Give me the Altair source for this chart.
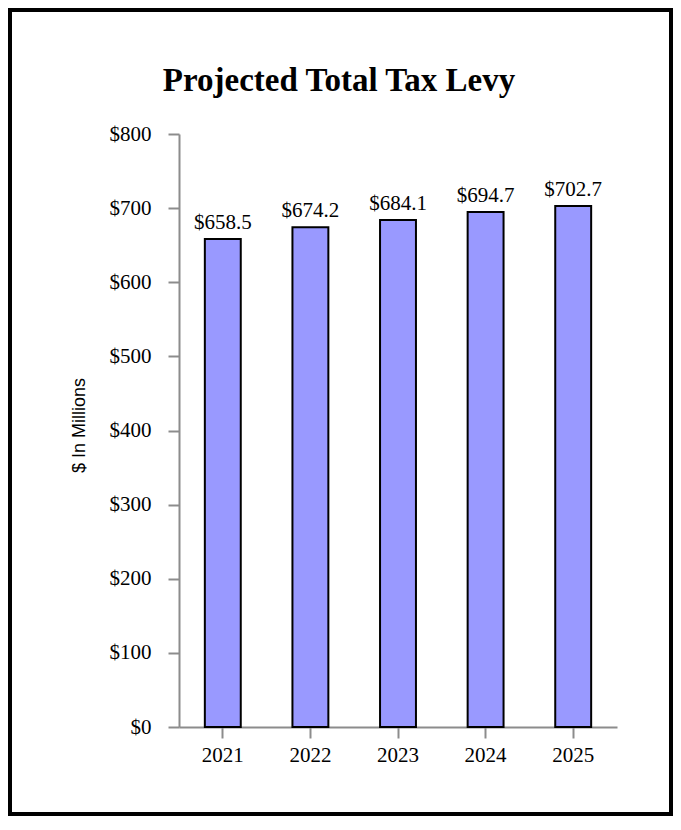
import altair as alt
import pandas as pd

years = ["2021", "2022", "2023", "2024", "2025"]
levy = [658.5, 674.2, 684.1, 694.7, 702.7]
bar_labels = ["$658.5", "$674.2", "$684.1", "$694.7", "$702.7"]
y_ticks = [0, 100, 200, 300, 400, 500, 600, 700, 800]

df = pd.DataFrame({"year": years, "levy": levy, "label": bar_labels})

W, H = 438, 593
PL, PT, PR, PB = 171, 126, 56, 89

GRAY = "#8c8c8c"
SERIF = "Liberation Serif"

x_enc = alt.X(
    "year:N",
    sort=years,
    scale=alt.Scale(paddingInner=0.59, paddingOuter=0.295),
    axis=alt.Axis(
        title=None,
        labelAngle=0,
        labelFont=SERIF,
        labelFontSize=21,
        labelColor="black",
        labelPadding=6,
        tickSize=11,
        tickWidth=2,
        tickColor=GRAY,
        domainColor=GRAY,
        domainWidth=2,
    ),
)
y_enc = alt.Y(
    "levy:Q",
    scale=alt.Scale(domain=[0, 800], nice=False),
    axis=alt.Axis(
        values=y_ticks,
        labelExpr="'$' + datum.value",
        labelFont=SERIF,
        labelFontSize=21,
        labelColor="black",
        labelPadding=17,
        tickSize=11,
        tickWidth=2,
        tickColor=GRAY,
        domainColor=GRAY,
        domainWidth=2,
        grid=False,
        title="$ In Millions",
        titleFont="Liberation Sans",
        titleFontSize=18,
        titleFontWeight="normal",
        titleColor="black",
        titleAngle=-90,
        titleAlign="center",
        titleBaseline="middle",
        titleX=-100,
        titleY=291,
    ),
)

base = alt.Chart(df)

bars = base.mark_bar(color="#9999ff", stroke="black", strokeWidth=2).encode(
    x=x_enc, y=y_enc
)

texts = base.mark_text(
    font=SERIF, fontSize=21, color="black", baseline="alphabetic", dy=-10
).encode(x=alt.X("year:N", sort=years), y=alt.Y("levy:Q"), text="label:N")

border_df = pd.DataFrame({"b": [1]})
border = alt.Chart(border_df).mark_rect(
    fillOpacity=0, stroke="black", strokeWidth=4, clip=False
).encode(
    x=alt.value(-PL + 2),
    x2=alt.value(W + PR - 2),
    y=alt.value(-PT + 2),
    y2=alt.value(H + PB - 2),
)

chart = (
    alt.layer(border, bars, texts)
    .properties(
        width=W,
        height=H,
        padding={"left": PL, "top": PT, "right": PR, "bottom": PB},
        autosize=alt.AutoSizeParams(type="none"),
        title=alt.Title(
            "Projected Total Tax Levy",
            font=SERIF,
            fontSize=33,
            fontWeight="bold",
            color="black",
            anchor="middle",
            frame="group",
            baseline="alphabetic",
            offset=0,
            dy=116,
            dx=-59,
        ),
    )
    .configure(background="white", view=alt.ViewConfig(stroke="transparent"))
)

chart.save("out.html", embed_options={"renderer": "svg", "actions": False})
